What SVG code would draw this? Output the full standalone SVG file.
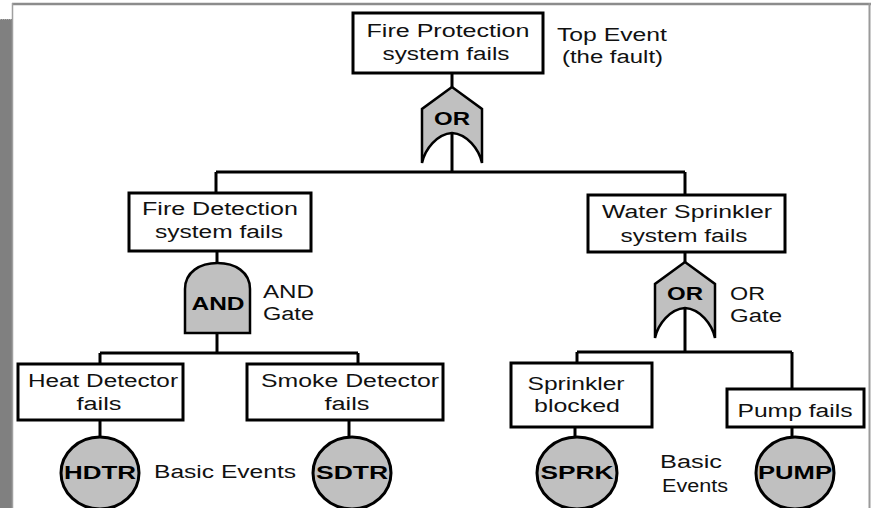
<svg xmlns="http://www.w3.org/2000/svg" width="871" height="508" viewBox="0 0 871 508">
<defs>
<style>
.box{fill:#fff;stroke:#000;stroke-width:3}
.gate{fill:#c0c0c0;stroke:#000;stroke-width:2.5;stroke-linejoin:miter}
.ev{fill:#c0c0c0;stroke:#000;stroke-width:3}
.t{font-family:"Liberation Sans",Arial,sans-serif;font-size:18px;fill:#111}
.c{text-anchor:middle}
.b{font-weight:bold;fill:#000}
.conn line{stroke:#000;stroke-width:3}
</style>
<path id="orShape" d="M0,0 L-30,22 L-30,76 C-27,62 -15,47 0,46 C15,47 27,62 30,76 L30,22 Z"/>
</defs>
<rect x="0" y="0" width="871" height="508" fill="#fff"/>
<rect x="0" y="19" width="12" height="489" fill="#808080"/>
<line x1="0" y1="19.5" x2="12" y2="19.5" stroke="#aaa" stroke-width="1" stroke-dasharray="1,1"/>
<line x1="12" y1="4" x2="871" y2="4" stroke="#8c8c8c" stroke-width="2.5"/>
<line x1="12.5" y1="3" x2="12.5" y2="508" stroke="#a0a0a0" stroke-width="1.5"/>
<line x1="869.5" y1="3" x2="869.5" y2="508" stroke="#9a9a9a" stroke-width="2"/>

<g id="connectors" class="conn">
<line x1="452" y1="73" x2="452" y2="88"/>
<line x1="452" y1="133" x2="452" y2="172"/>
<line x1="216" y1="172" x2="685" y2="172"/>
<line x1="216" y1="172" x2="216" y2="193"/>
<line x1="685" y1="172" x2="685" y2="195"/>
<line x1="217" y1="251" x2="217" y2="263"/>
<line x1="217" y1="333" x2="217" y2="353"/>
<line x1="100" y1="353" x2="358" y2="353"/>
<line x1="100" y1="353" x2="100" y2="364"/>
<line x1="358" y1="353" x2="358" y2="364"/>
<line x1="100" y1="420" x2="100" y2="437"/>
<line x1="349" y1="420" x2="349" y2="437"/>
<line x1="685" y1="252" x2="685" y2="263"/>
<line x1="685" y1="308" x2="685" y2="352"/>
<line x1="577" y1="352" x2="792" y2="352"/>
<line x1="577" y1="352" x2="577" y2="363"/>
<line x1="792" y1="352" x2="792" y2="389"/>
<line x1="575" y1="427" x2="575" y2="437"/>
<line x1="792" y1="427" x2="792" y2="437"/>
</g>

<g id="top-event">
<rect class="box" x="353" y="13" width="190" height="60"/>
<text class="t c" x="448" y="37" textLength="163" lengthAdjust="spacingAndGlyphs">Fire Protection</text>
<text class="t c" x="446" y="60" textLength="127" lengthAdjust="spacingAndGlyphs">system fails</text>
</g>
<g id="top-label">
<text class="t" x="557" y="41" textLength="110" lengthAdjust="spacingAndGlyphs">Top Event</text>
<text class="t" x="562" y="63" textLength="101" lengthAdjust="spacingAndGlyphs">(the fault)</text>
</g>
<g id="or-gate-top">
<use href="#orShape" class="gate" transform="translate(452,87)"/>
<text class="t c b" x="452" y="125" font-size="17" textLength="36" lengthAdjust="spacingAndGlyphs">OR</text>
</g>

<g id="fire-detection">
<rect class="box" x="129" y="193" width="182" height="58"/>
<text class="t c" x="220" y="215" textLength="156" lengthAdjust="spacingAndGlyphs">Fire Detection</text>
<text class="t c" x="219" y="238" textLength="128" lengthAdjust="spacingAndGlyphs">system fails</text>
</g>
<g id="and-gate">
<path class="gate" d="M185,333 L185,289 C185,272 200,263 217.5,263 C235,263 250,272 250,289 L250,333 Z"/>
<text class="t c b" x="218" y="310" textLength="53" lengthAdjust="spacingAndGlyphs">AND</text>
</g>
<g id="and-label">
<text class="t" x="263" y="298" textLength="51" lengthAdjust="spacingAndGlyphs">AND</text>
<text class="t" x="263" y="320" textLength="51" lengthAdjust="spacingAndGlyphs">Gate</text>
</g>

<g id="water-sprinkler">
<rect class="box" x="588" y="195" width="197" height="57"/>
<text class="t c" x="687" y="218" textLength="170" lengthAdjust="spacingAndGlyphs">Water Sprinkler</text>
<text class="t c" x="684" y="242" textLength="127" lengthAdjust="spacingAndGlyphs">system fails</text>
</g>
<g id="or-gate-right">
<use href="#orShape" class="gate" transform="translate(685,262)"/>
<text class="t c b" x="685" y="300" font-size="17" textLength="36" lengthAdjust="spacingAndGlyphs">OR</text>
</g>
<g id="or-label">
<text class="t" x="730" y="300" textLength="35" lengthAdjust="spacingAndGlyphs">OR</text>
<text class="t" x="730" y="322" textLength="52" lengthAdjust="spacingAndGlyphs">Gate</text>
</g>

<g id="heat-detector">
<rect class="box" x="18" y="364" width="165" height="56"/>
<text class="t c" x="103" y="387" textLength="150" lengthAdjust="spacingAndGlyphs">Heat Detector</text>
<text class="t c" x="99" y="410" textLength="45" lengthAdjust="spacingAndGlyphs">fails</text>
</g>
<g id="smoke-detector">
<rect class="box" x="247" y="364" width="196" height="56"/>
<text class="t c" x="350" y="387" textLength="178" lengthAdjust="spacingAndGlyphs">Smoke Detector</text>
<text class="t c" x="347" y="410" textLength="45" lengthAdjust="spacingAndGlyphs">fails</text>
</g>
<g id="sprinkler-blocked">
<rect class="box" x="511" y="363" width="141" height="64"/>
<text class="t c" x="576" y="390" textLength="97" lengthAdjust="spacingAndGlyphs">Sprinkler</text>
<text class="t c" x="577" y="412" textLength="86" lengthAdjust="spacingAndGlyphs">blocked</text>
</g>
<g id="pump-fails">
<rect class="box" x="727" y="389" width="137" height="38"/>
<text class="t c" x="795" y="417" textLength="115" lengthAdjust="spacingAndGlyphs">Pump fails</text>
</g>

<g id="hdtr">
<ellipse class="ev" cx="100" cy="473" rx="39" ry="36"/>
<text class="t c b" x="100" y="479" font-size="19" textLength="72" lengthAdjust="spacingAndGlyphs">HDTR</text>
</g>
<g id="sdtr">
<ellipse class="ev" cx="352" cy="473" rx="39" ry="36"/>
<text class="t c b" x="352" y="479" font-size="19" textLength="72" lengthAdjust="spacingAndGlyphs">SDTR</text>
</g>
<g id="sprk">
<ellipse class="ev" cx="577" cy="473" rx="40" ry="36"/>
<text class="t c b" x="577" y="479" font-size="19" textLength="73" lengthAdjust="spacingAndGlyphs">SPRK</text>
</g>
<g id="pump">
<ellipse class="ev" cx="795" cy="473" rx="39" ry="36"/>
<text class="t c b" x="795" y="479" font-size="19" textLength="74" lengthAdjust="spacingAndGlyphs">PUMP</text>
</g>

<g id="basic-label-left">
<text class="t" x="154" y="478" textLength="142" lengthAdjust="spacingAndGlyphs">Basic Events</text>
</g>
<g id="basic-label-right">
<text class="t" x="660" y="468" textLength="62" lengthAdjust="spacingAndGlyphs">Basic</text>
<text class="t" x="662" y="492" textLength="66" lengthAdjust="spacingAndGlyphs">Events</text>
</g>
</svg>
